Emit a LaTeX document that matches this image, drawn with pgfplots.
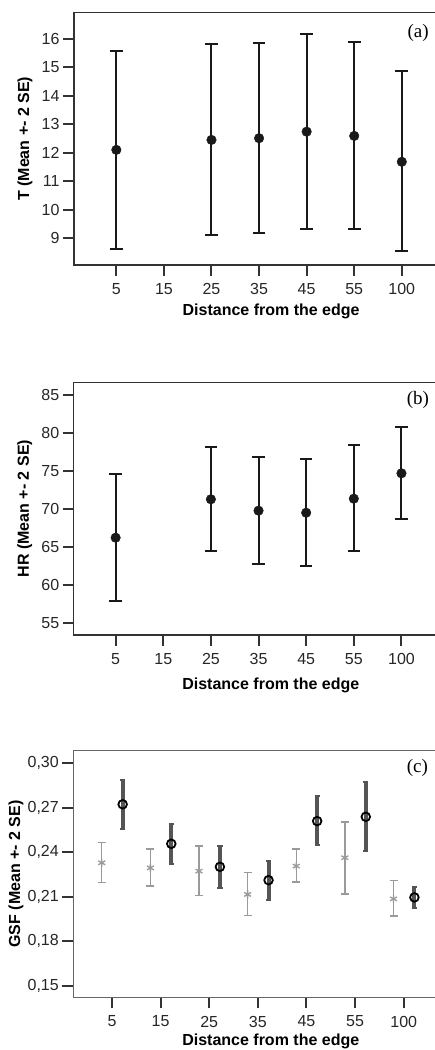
\documentclass[border=0pt]{standalone}
\usepackage{fontspec}
\setmainfont{Liberation Sans}
\newfontfamily\tnr{Liberation Serif}
\usepackage{pgfplots}
\usepackage{pgfplotstable}
\pgfplotsset{compat=1.18}
\definecolor{frame}{HTML}{333333}
\definecolor{darkbar}{HTML}{555555}
\definecolor{lightbar}{HTML}{9A9A9A}

% T panel: x index, mean, upper and lower end of the bar
\pgfplotstableread{
x y hi lo
0 12.10 15.59 8.62
2 12.45 15.82 9.09
3 12.51 15.85 9.19
4 12.74 16.18 9.33
5 12.59 15.88 9.30
6 11.68 14.86 8.53
}\tabT
\pgfplotstableread{
x y hi lo
0 66.24 74.59 57.94
2 71.30 78.19 64.49
3 69.80 76.91 62.77
4 69.53 76.61 62.55
5 71.38 78.49 64.49
6 74.72 80.86 68.66
}\tabHR
% GSF, light series (left of each tick)
\pgfplotstableread{
x y hi lo
-0.21 0.2328 0.2463 0.2196
0.79 0.2294 0.2420 0.2171
1.79 0.2272 0.2441 0.2106
2.79 0.2115 0.2261 0.1973
3.79 0.2306 0.2420 0.2200
4.79 0.2362 0.2604 0.2119
5.79 0.2085 0.2207 0.1971
}\tabGa
% GSF, dark series (right of each tick)
\pgfplotstableread{
x y hi lo
0.22 0.2722 0.2883 0.2557
1.22 0.2456 0.2589 0.2319
2.22 0.2301 0.2439 0.2160
3.22 0.2211 0.2339 0.2079
4.22 0.2609 0.2776 0.2445
5.22 0.2638 0.2872 0.2405
6.22 0.2095 0.2166 0.2025
}\tabGb

\pgfplotsset{
  pan/.style={
    scale only axis, width=363pt,
    xtick={0,...,6}, xticklabels={5,15,25,35,45,55,100},
    axis line style={frame, line width=1.3pt},
    tick style={frame, line width=2pt},
    tick align=outside, major tick length=11pt,
    xtick pos=bottom, ytick pos=left,
    /pgf/number format/assume math mode=true,
    tick label style={font=\fontsize{16}{18}\selectfont, text=black!85},
    xticklabel style={yshift=-4pt},
    label style={font=\fontsize{16}{18}\selectfont\bfseries},
    xlabel={Distance from the edge},
    xlabel style={at={(axis description cs:0.543,-0.182)}, anchor=center},
  },
  ebar/.style={
    only marks,
    error bars/y dir=both, error bars/y explicit,
  },
}

\begin{document}
\begin{tikzpicture}
\path[use as bounding box] (0,0) rectangle (435pt,-1050pt);

% (a)
\begin{axis}[pan, at={(74pt,-12.5pt)}, anchor=north west,
  height=252.5pt, xmin=-0.89, xmax=6.74, ymin=8.05, ymax=16.93,
  ytick={9,...,16},
  ylabel={T (Mean +- 2 SE)},
  ylabel style={at={(axis description cs:-0.135,0.5)}, anchor=center},
  xlabel style={at={(axis description cs:0.543,-0.183)}}]
  \addplot[ebar, mark=*, mark size=4.8pt, color=black!90,
    error bars/error bar style={line width=2pt, black!90},
    error bars/error mark options={rotate=90, mark size=6.3pt, line width=2pt, black!90}]
    table[x=x, y=y, y error plus expr=\thisrow{hi}-\thisrow{y},
          y error minus expr=\thisrow{y}-\thisrow{lo}] {\tabT};
  \node[font=\tnr\fontsize{19}{20}\selectfont] at (axis description cs:0.948,0.919) {(a)};
\end{axis}

% (b)
\begin{axis}[pan, at={(73.7pt,-382.3pt)}, anchor=north west,
  height=252.7pt, xmin=-0.88, xmax=6.74, ymin=53.42, ymax=86.71,
  ytick={55,60,...,85},
  ylabel={HR (Mean +- 2 SE)},
  ylabel style={at={(axis description cs:-0.135,0.5)}, anchor=center},
  xlabel style={at={(axis description cs:0.543,-0.198)}}]
  \addplot[ebar, mark=*, mark size=4.8pt, color=black!90,
    error bars/error bar style={line width=2pt, black!90},
    error bars/error mark options={rotate=90, mark size=6.3pt, line width=2pt, black!90}]
    table[x=x, y=y, y error plus expr=\thisrow{hi}-\thisrow{y},
          y error minus expr=\thisrow{y}-\thisrow{lo}] {\tabHR};
  \node[font=\tnr\fontsize{19}{20}\selectfont] at (axis description cs:0.948,0.93) {(b)};
\end{axis}

% (c)
\begin{axis}[pan, at={(73.3pt,-750.7pt)}, anchor=north west,
  height=246.6pt, xmin=-0.795, xmax=6.67, ymin=0.1422, ymax=0.3083,
  ytick={0.15,0.18,...,0.31},
  yticklabel style={/pgf/number format/.cd, fixed, fixed zerofill, precision=2, use comma},
  axis line style={black!60, line width=1.3pt},
  ylabel={GSF (Mean +- 2 SE)},
  ylabel style={at={(axis description cs:-0.158,0.5)}, anchor=center},
  xlabel style={at={(axis description cs:0.544,-0.177)}}]
  \addplot[ebar, mark=asterisk, mark size=4pt, color=lightbar, mark options={line width=1.3pt},
    error bars/error bar style={line width=1.4pt, lightbar},
    error bars/error mark options={rotate=90, mark size=4pt, line width=1.4pt, lightbar}]
    table[x=x, y=y, y error plus expr=\thisrow{hi}-\thisrow{y},
          y error minus expr=\thisrow{y}-\thisrow{lo}] {\tabGa};
  \addplot[ebar, mark=o, mark size=4.3pt, color=black,
    mark options={fill=white, line width=1.8pt, draw=black},
    error bars/error bar style={line width=4pt, darkbar},
    error bars/error mark options={rotate=90, mark size=2.6pt, line width=2pt, darkbar}]
    table[x=x, y=y, y error plus expr=\thisrow{hi}-\thisrow{y},
          y error minus expr=\thisrow{y}-\thisrow{lo}] {\tabGb};
  \node[font=\tnr\fontsize{19}{20}\selectfont] at (axis description cs:0.948,0.93) {(c)};
\end{axis}
\end{tikzpicture}
\end{document}
